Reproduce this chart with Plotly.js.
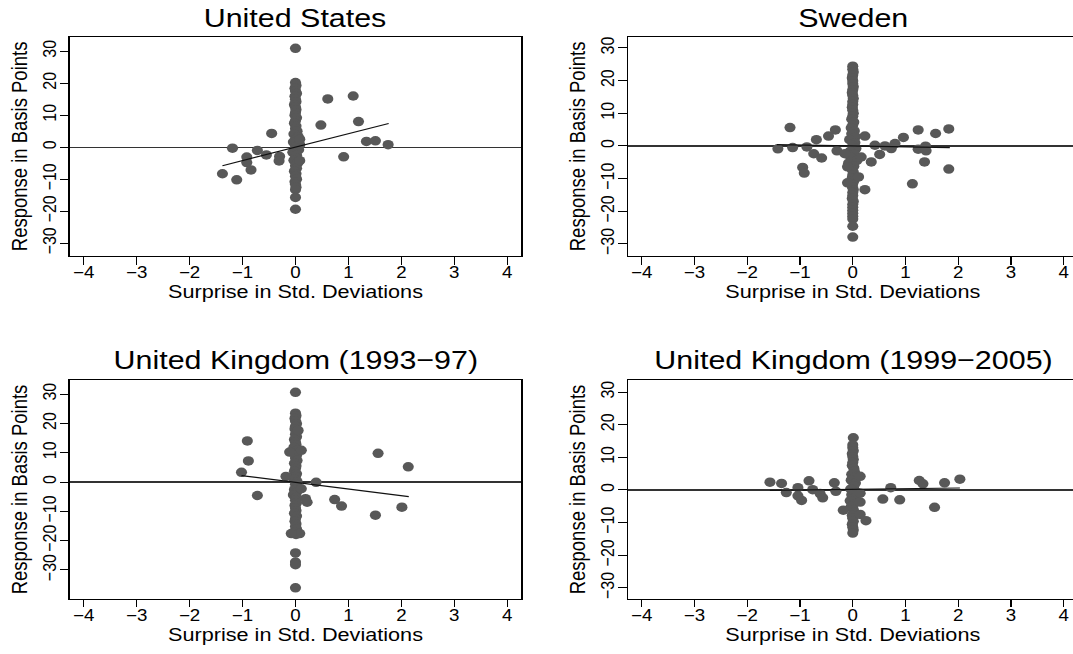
<!DOCTYPE html>
<html><head><meta charset="utf-8">
<script src="https://cdn.plot.ly/plotly-3.0.1.min.js"></script>
<style>
html,body{margin:0;padding:0;overflow:hidden;background:#fff;width:1073px;height:654px}
#wrap{width:921px;height:654px;transform:scale(1.1705,1);transform-origin:0 0}
</style>
</head><body><div id="wrap"></div>
<script>
// ---- Data (surprise in std. deviations, response in basis points) ----
var panelTitles = ['United States', 'Sweden', 'United Kingdom (1993\u221297)', 'United Kingdom (1999\u22122005)'];
var xTicks = [-4, -3, -2, -1, 0, 1, 2, 3, 4];
var yTicks = [-30, -20, -10, 0, 10, 20, 30];

var usX = [0,0.01,-0.01,0,0.02,-0.01,0,0.01,-0.02,0, 0.01,0,-0.01,0.02,0,-0.02,0.01,0,0.03,-0.03,
  0.05,0,-0.04,0.08,0,0.06,-0.05,0.02,0,-0.03, 0.04,0,0.02,-0.02,0.01,0,0.02,-0.01,0,0.01, 0,0,0,
  0.61,1.09,0.48,1.19,1.34,1.51,1.75,0.91,-0.45,-1.19,-0.72,-0.55,-0.92,-0.92,-0.84,-1.38,-1.11,-0.30,-0.31,0.08,0.08,0];
var usY = [20.2,19.3,18.4,17.6,16.8,15.9,15.0,14.2,13.3,12.5,11.7,10.8,10.0,9.2,8.3,7.5,6.6,5.8,5.0,4.1,
  3.3,2.4,1.6,0.8,0.0,-0.8,-1.6,-2.5,-3.3,-4.1,-5.0,-5.8,-6.6,-7.5,-8.3,-9.1,-10.0,-10.8,-11.6,-12.5,-13.3,-15.7,-19.4,
  15.1,16.0,6.9,8.0,1.8,2.0,0.8,-3.0,4.3,-0.3,-1.0,-2.4,-3.1,-4.8,-7.1,-8.3,-10.2,-2.9,-4.3,2.5,-4.2,30.9];
var usFitX = [-1.38, 1.76];
var usFitY = [-5.8, 7.4];

var seX = [0,0,0.01,0,-0.01,0,0,0.01,0,-0.01, 0,0.01,0,0,-0.01,0,0.01,0,-0.02,0.02,
  0,-0.03,0.03,-0.02,0.05,-0.06,0.04,0,0.06,-0.05, 0.03,-0.04,0.08,-0.08,0.02,-0.02,0.01,0,-0.01,0.02,
  0,-0.01,0.01,0,0,-0.01,0.01,0,0,0, 0,0,0,0,0,
  -1.19,-1.42,-1.14,-0.87,-0.74,-0.59,-0.95,-0.92,-0.69,-0.46,-0.33,-0.30,0.23,0.16,0.23,0.42,0.51,0.35,0.61,0.73,
  0.80,0.96,1.24,1.24,1.38,1.39,1.36,1.57,1.82,1.82,1.13,-0.10,-0.10,0.11,-0.15];
var seY = [24.4,23.5,22.6,21.7,20.8,19.9,19.0,18.1,17.2,16.3,15.4,14.5,13.6,12.7,11.8,10.9,10.0,9.1,8.2,7.3,
  6.4,5.5,4.6,3.7,2.8,1.9,1.0,0.1,-0.8,-1.7,-2.6,-3.5,-4.4,-5.3,-6.2,-7.1,-8.0,-8.9,-9.8,-10.7,
  -11.6,-12.5,-13.4,-14.3,-15.2,-16.1,-17.0,-17.9,-18.8,-19.7,-20.6,-21.5,-22.4,-24.6,-27.9,
  5.6,-0.9,-0.5,-0.3,-2.4,-3.7,-6.6,-8.3,1.9,3.0,4.9,-1.5,3.0,-3.4,-13.4,0.2,-2.6,-4.9,0.0,-0.8,
  0.7,2.6,4.9,-1.0,-0.1,-1.5,-4.9,3.8,5.2,-7.1,-11.6,-6.4,-11.3,-9.5,-2.4];
var seFitX = [-1.44, 1.84];
var seFitY = [0.4, -0.5];

var uk1X = [0, 0,0.01,-0.01,0,0.02,0,-0.01,0.03,0,0.02, -0.02,0,0.01,-0.03,0.05,-0.04,0.02,0,0.03,-0.02,
  0.01,0,-0.02,0.02,0,-0.03,0.03,0,0.04,-0.02, 0.02,-0.04,0.01,0,0.02,-0.01,0,0.01,-0.02,0.02,
  0,-0.01,0.01,0,0.02,-0.02,0.01, 0,0,0,0,
  -0.91,-0.89,-1.02,-0.72,1.56,2.13,0.39,0.19,0.22,0.74,0.87,1.51,2.01,0.11,-0.11,-0.18,0.08,-0.08,0.11,0.05];
var uk1Y = [30.6, 23.5,22.6,21.7,20.8,19.9,19.0,18.1,17.2,16.3,15.4,14.5,13.6,12.7,11.8,10.9,10.0,9.1,8.2,7.3,6.4,
  5.5,4.6,3.7,2.8,1.9,1.0,0.1,-0.8,-1.7,-2.6,-3.5,-4.4,-5.3,-6.2,-7.1,-8.0,-8.9,-9.8,-10.7,-11.6,
  -12.5,-13.4,-14.3,-15.2,-16.1,-17.0,-17.9,-24.2,-27.3,-28.2,-36.1,
  14.0,7.2,3.3,-4.6,9.8,5.2,-0.1,-5.7,-6.9,-6.0,-8.2,-11.3,-8.6,10.8,10.2,1.9,-17.6,-17.6,-2.3,17.6];
var uk1FitX = [-1.02, 2.14];
var uk1FitY = [2.2, -5.0];

var uk2X = [0.01, 0,0,0.01,-0.01,0,0.01,0,-0.01,0.02,0.03, -0.02,0.04,-0.03,0.05,0.02,-0.04,0.06,-0.02,0.03,-0.05,
  0.02,-0.03,0.01,0.02,-0.01,0,0.01,-0.01,0,0.01,0,
  -1.57,-1.35,-1.26,-1.04,-1.04,-0.97,-0.83,-0.76,-0.62,-0.57,-0.35,-0.32,-0.18,0.14,0.14,0.25,0.14,0.14,0.57,0.72,
  0.89,1.26,1.33,1.74,2.03,1.55];
var uk2Y = [16.0, 13.8,12.9,12.0,11.1,10.2,9.3,8.4,7.5,6.6,5.7,4.8,3.9,3.0,2.1,1.2,0.3,-0.6,-1.5,-2.4,-3.3,
  -4.2,-5.1,-6.0,-6.9,-7.8,-8.7,-9.6,-10.5,-11.4,-12.3,-13.2,
  2.4,2.0,-0.8,0.7,-1.8,-3.2,2.8,0.1,-1.1,-2.4,2.2,-0.4,-6.2,4.2,-7.5,-9.4,-1.0,-3.7,-2.8,0.7,
  -3.0,2.9,1.9,2.2,3.3,-5.3];
var uk2FitX = [-1.57, 2.03];
var uk2FitY = [-0.1, 0.6];

// ---- Build ----
var FONT = '"Liberation Sans", Arial, Helvetica, sans-serif';
var dotColor = 'rgb(88,88,88)';
var panels = [
  {x: usX, y: usY, fx: usFitX, fy: usFitY, yr: [-34, 34.5]},
  {x: seX, y: seY, fx: seFitX, fy: seFitY, yr: [-33.7, 33.4]},
  {x: uk1X, y: uk1Y, fx: uk1FitX, fy: uk1FitY, yr: [-39.8, 34.7]},
  {x: uk2X, y: uk2Y, fx: uk2FitX, fy: uk2FitY, yr: [-33.3, 33.6]}
];
var xDomains = [[0.0649, 0.4833], [0.5826, 0.9995], [0.0649, 0.4833], [0.5826, 0.9995]];
var yDomains = [[0.6086, 0.9437], [0.6086, 0.9437], [0.0846, 0.4185], [0.0846, 0.4185]];

var data = [];
var layout = {
  width: 921, height: 654,
  margin: {l: 0, r: 0, t: 0, b: 0},
  paper_bgcolor: '#fff', plot_bgcolor: '#fff',
  showlegend: false,
  font: {family: FONT, color: '#000'},
  annotations: []
};

panels.forEach(function (p, i) {
  var n = i + 1;
  var xa = 'x' + (n === 1 ? '' : n), ya = 'y' + (n === 1 ? '' : n);
  data.push({type: 'scatter', mode: 'markers', x: p.x, y: p.y, xaxis: xa, yaxis: ya,
    marker: {color: dotColor, size: 9.5, line: {width: 0}}, hoverinfo: 'x+y'});
  data.push({type: 'scatter', mode: 'lines', x: p.fx, y: p.fy, xaxis: xa, yaxis: ya,
    line: {color: '#111', width: 1.2}, hoverinfo: 'skip'});
  layout['xaxis' + (n === 1 ? '' : n)] = {
    domain: xDomains[i], anchor: ya, range: [-4.26, 4.26],
    tickmode: 'array', tickvals: xTicks,
    ticks: 'outside', ticklen: 7.5, tickwidth: 1, tickcolor: '#000',
    ticklabelstandoff: -6,
    showline: true, mirror: true, linecolor: '#000', linewidth: 1.3,
    showgrid: false, zeroline: false,
    tickfont: {size: 16, color: '#000', family: FONT},
    title: {text: 'Surprise in Std. Deviations', font: {size: 18.5, color: '#000', family: FONT}, standoff: 0}
  };
  layout['yaxis' + (n === 1 ? '' : n)] = {
    domain: yDomains[i], anchor: xa, range: p.yr,
    tickmode: 'array', tickvals: yTicks, tickangle: -90,
    ticks: 'outside', ticklen: 7, tickwidth: 1, tickcolor: '#000',
    ticklabelstandoff: -3,
    showline: true, mirror: true, linecolor: '#000', linewidth: 1.3,
    showgrid: false, zeroline: true, zerolinecolor: '#333', zerolinewidth: 1.3,
    tickfont: {size: 16, color: '#000', family: FONT},
    title: {text: 'Response in Basis Points', font: {size: 18.5, color: '#000', family: FONT}, standoff: 5}
  };
  layout.annotations.push({
    text: panelTitles[i], xref: 'paper', yref: 'paper',
    x: (xDomains[i][0] + xDomains[i][1]) / 2, y: i < 2 ? 0.973 : 0.4495,
    xanchor: 'center', yanchor: 'middle', showarrow: false,
    font: {size: 26, color: '#000', family: FONT}
  });
});

Plotly.newPlot('wrap', data, layout, {staticPlot: true, displayModeBar: false});
</script></body></html>
